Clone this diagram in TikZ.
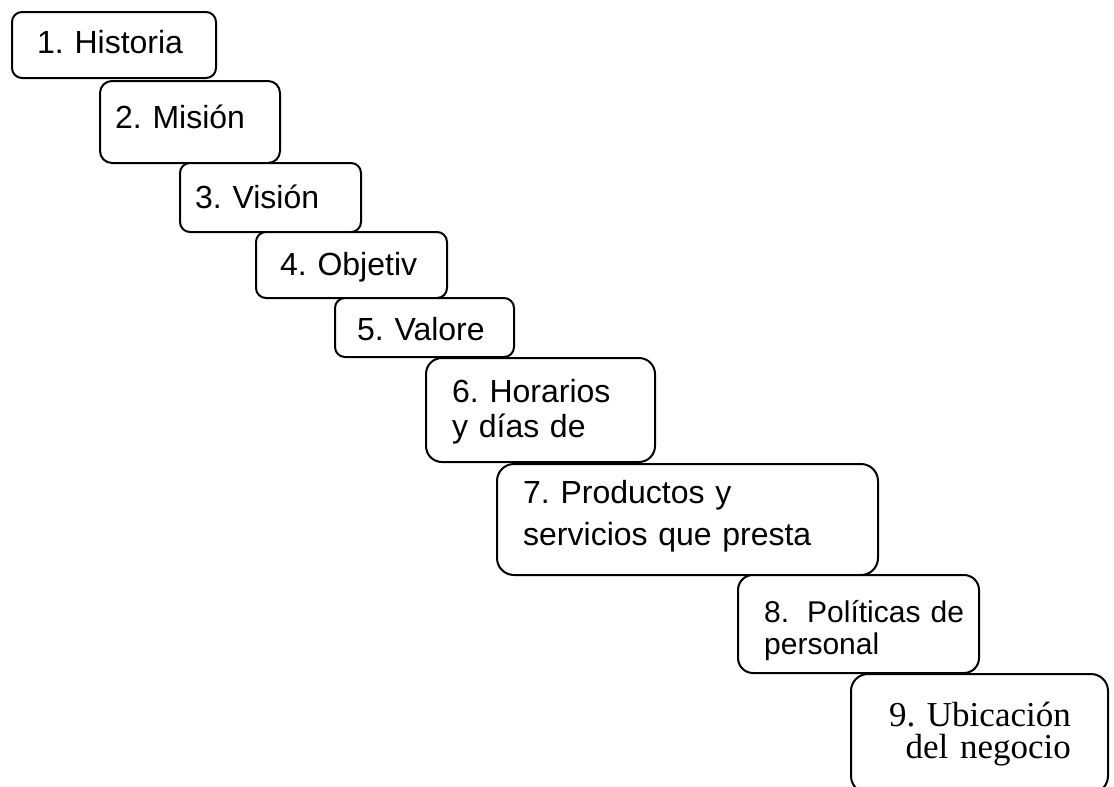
\documentclass[tikz,border=0pt]{standalone}
\usepackage{fontspec}
\setmainfont{Liberation Sans}
\newfontfamily\serifface{Liberation Serif}
\frenchspacing

\begin{document}
\begin{tikzpicture}
	[x=1pt, y=-1pt,
	 stepbox/.style={draw, fill=white, line width=2pt, rounded corners=10pt,
	   anchor=north west, inner sep=0pt},
	 steptext/.style={anchor=base west, align=left, inner sep=0pt, text width=400pt,
	   font=\fontsize{32}{35}\selectfont}]
   \useasboundingbox (0,0) rectangle (1114,787);
   % boxes, from top left down to bottom right
   \node[stepbox, minimum width=204, minimum height=66] (historia) at (11,11) {};
   \node[stepbox, minimum width=180, minimum height=82, rounded corners=12pt] (mision) at (99,80) {};
   \node[stepbox, minimum width=181, minimum height=69] (vision) at (179,162) {};
   \node[stepbox, minimum width=191, minimum height=66] (objetiv) at (255,231) {};
   \node[stepbox, minimum width=179, minimum height=59] (valore) at (334,297) {};
   \node[stepbox, minimum width=229, minimum height=104, rounded corners=16pt] (horarios) at (425,357) {};
   \node[stepbox, minimum width=381, minimum height=111, rounded corners=17pt] (productos) at (496,463) {};
   \node[stepbox, minimum width=241, minimum height=98, rounded corners=15pt] (politicas) at (737,574) {};
   \node[stepbox, minimum width=257, minimum height=119, rounded corners=17pt] (ubicacion) at (850,673) {};
   % texts
   \node[steptext] (historia-t) at (37,53) {1. Historia};
   \node[steptext] (mision-t) at (115,128) {2. Misión};
   \node[steptext] (vision-t) at (195,208) {3. Visión};
   \node[steptext] (objetiv-t) at (280,275) {4. Objetiv};
   \node[steptext] (valore-t) at (357,340) {5. Valore};
   \node[steptext] (horarios-t) at (452,402) {6. Horarios\\y días de};
   \node[steptext, font=\fontsize{32}{42}\selectfont] (productos-t) at (523,503)
     {7. Productos y\\servicios que presta};
   \node[steptext, font=\fontsize{30}{32}\selectfont] (politicas-t) at (764,622)
     {8.\hspace{8pt} Políticas de\\personal};
   \node[steptext, anchor=base east, align=right,
     font=\serifface\fontsize{35}{32.5}\selectfont] (ubicacion-t) at (1071,726)
     {9. Ubicación\\del negocio};
\end{tikzpicture}
\end{document}
